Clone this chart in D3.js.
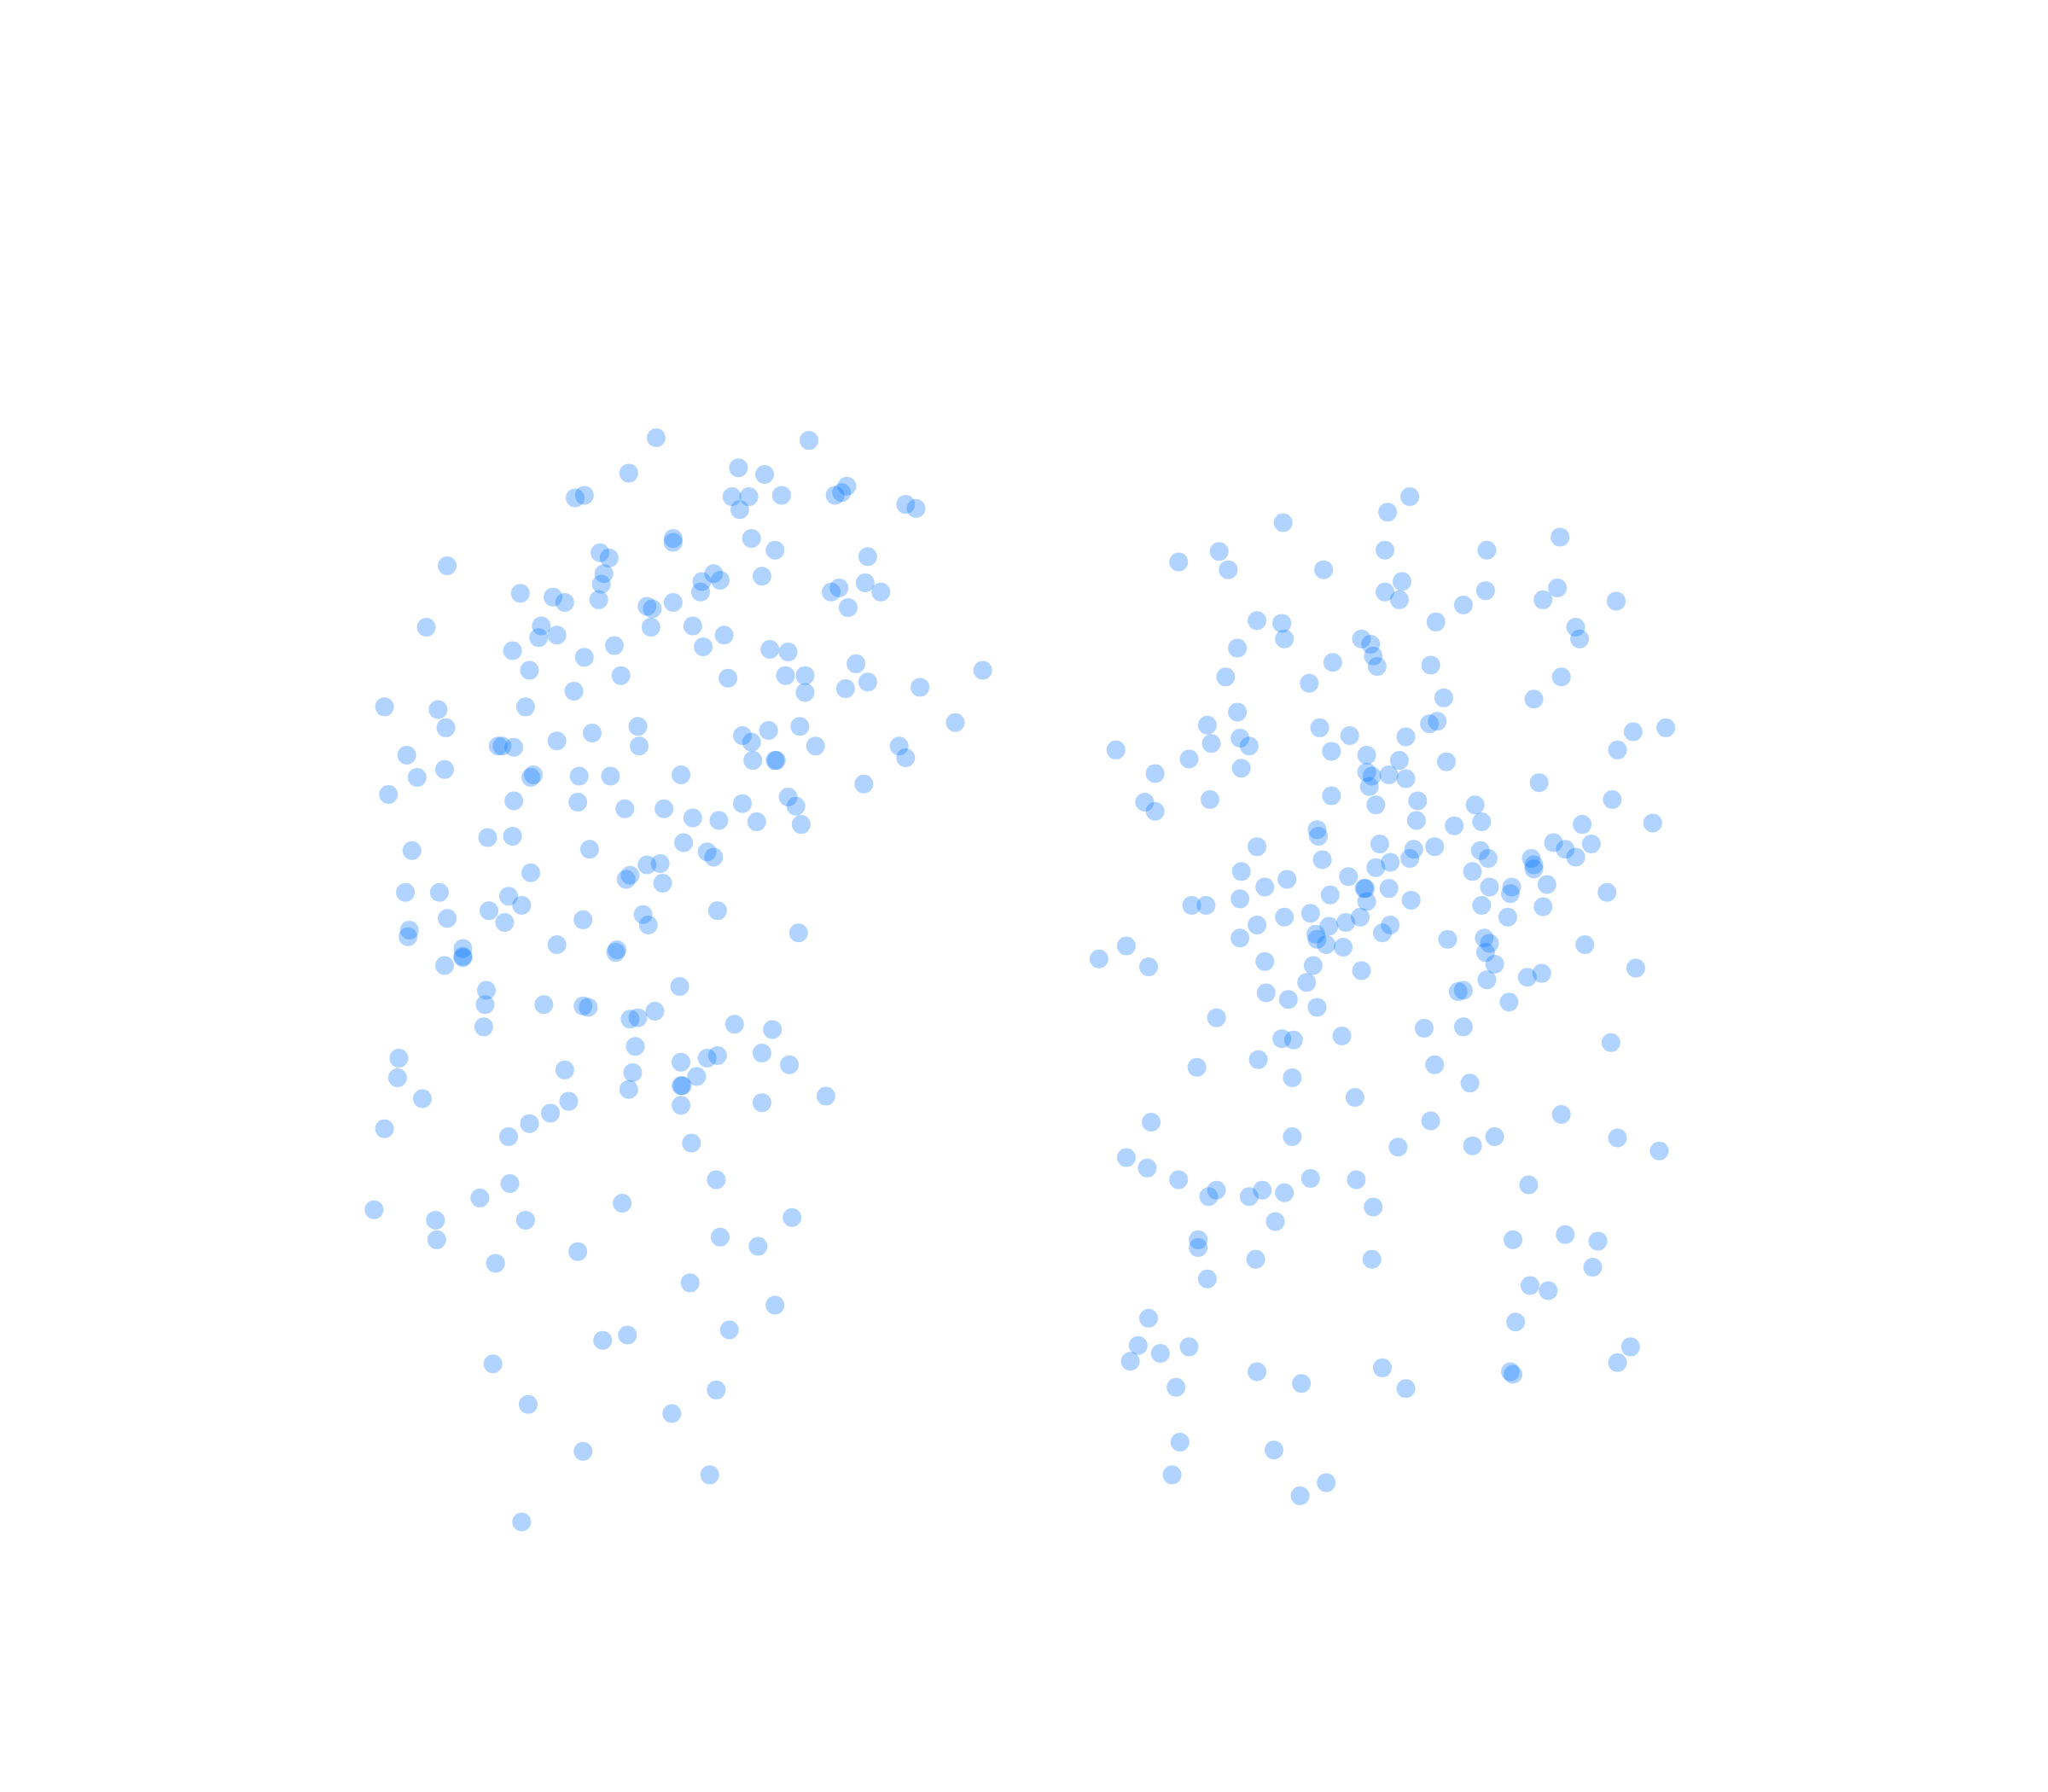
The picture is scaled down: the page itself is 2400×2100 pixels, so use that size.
<!DOCTYPE html>
<html>
<head>
<meta charset="utf-8">
<script src="https://cdn.jsdelivr.net/npm/d3@7"></script>
<style>html,body{margin:0;padding:0;background:#fff}svg{display:block}</style>
</head>
<body>
<div id="chart"></div>
<script>
const leftSeries = [[502,335],[619,337],[481,362],[565,358],[585,363],[440,381],[447,379],[560,380],[573,380],[598,379],[566,390],[639,379],[644,377],[648,372],[693,386],[701,389],
[515,412],[515,415],[575,412],[593,421],[459,423],[466,427],[664,426],[342,433],[462,439],[460,447],[458,459],[537,445],[546,439],[551,444],[536,453],[583,441],[636,453],[642,450],[662,446],[674,453],[649,465],
[398,454],[423,457],[432,461],[495,464],[499,466],[515,461],[326,480],[414,479],[412,488],[426,486],[392,498],[498,480],[530,479],[554,486],[538,495],[470,494],[447,503],[589,497],[603,499],[655,508],[405,513],[475,517],[557,519],[601,517],[616,517],[647,527],[664,522],[616,530],[704,526],[752,513],[439,529],
[294,541],[335,543],[341,557],[402,541],[488,556],[453,561],[426,567],[381,571],[384,571],[393,572],[489,571],[568,563],[575,568],[588,559],[612,556],[624,571],[731,553],[688,571],[693,580],[576,582],[593,582],[594,582],[311,578],[340,589],[319,595],[297,608],[408,593],[406,595],[443,594],[467,594],[521,593],[661,600],[393,613],[442,614],[478,619],[508,619],[568,615],[603,610],[609,617],[530,626],[550,628],[579,629],[613,631],[373,641],[392,640],[523,645],[451,650],[541,652],[546,656],[315,651],
[406,668],[495,662],[505,661],[479,673],[482,670],[507,676],[310,683],[336,683],[389,686],[399,693],[374,697],[386,706],[342,703],[446,704],[492,700],[496,708],[549,697],[313,712],[312,717],[611,714],[354,726],[354,732],[354,733],[340,739],[426,723],[471,729],[472,727],
[372,758],[371,769],[370,786],[520,755],[416,769],[446,770],[450,771],[482,780],[488,779],[501,774],[562,784],[591,788],[305,810],[304,825],[486,801],[541,810],[549,808],[583,806],[521,813],[604,815],[432,819],[484,821],[533,824],[521,831],[522,831],[481,834],[323,841],[435,843],[421,852],[405,860],[521,846],[583,844],[632,839],[294,864],[389,870],[529,875],[390,906],[548,903],[367,917],[286,926],[476,921],[333,934],[402,934],[606,932],[334,949],[551,947],[580,954],[442,958],[379,967],[528,982],[593,999],[558,1018],[461,1026],[480,1022],[377,1044],[548,1064],[404,1075],[514,1082],[446,1111],[543,1129],[399,1165]];

const rightSeries = [[1079,380],[1062,392],[982,400],[1194,411],[1060,421],[933,422],[902,430],[940,436],[1138,421],[1013,436],[1073,445],[1060,453],[1071,459],[1137,452],[1192,450],[1181,459],[1237,460],[1120,463],[1099,476],[962,475],[981,477],[983,489],[1206,480],[1209,489],[1042,489],[1049,493],[947,496],[1051,502],[1054,510],[1095,509],[1020,507],[938,518],[1002,523],[1195,518],[1105,534],[1174,535],[947,545],[924,555],[1010,557],[1033,563],[1076,564],[1094,554],[1100,552],[949,565],[927,569],[956,571],[1250,560],[1275,557],[1238,574],[854,574],[910,581],[950,588],[1019,575],[1046,578],[1071,582],[1107,583],[884,592],[1046,591],[1050,594],[1063,593],[1076,596],[1048,602],[1178,599],[876,614],[884,621],[926,612],[1019,609],[1053,616],[1085,613],[1129,616],[1234,612],[1084,628],[1113,632],[1134,629],[1211,631],[1265,630],[1008,635],[1009,640],[962,648],[1056,646],[1082,650],[1098,648],[1133,651],[1189,645],[1198,650],[1218,646],[1206,656],[1139,657],[1172,657],[1174,662],[1174,665],[1012,658],[1064,660],[1079,657],[1053,664],[1127,667],[950,667],[985,673],[1032,671],[968,679],[1044,680],[1045,680],[1063,680],[1140,679],[1157,679],[1156,684],[1184,677],[1230,683],[949,688],[1018,685],[1046,690],[1080,689],[912,693],[923,693],[1134,693],[1181,694],[1003,699],[983,702],[1041,702],[1154,702],[962,708],[1017,709],[1030,706],[1064,708],[1058,714],[949,718],[1007,715],[1008,719],[1015,723],[1028,725],[1108,719],[1136,718],[1140,722],[1213,723],[862,724],[841,734],[879,740],[968,736],[1005,739],[1042,743],[1137,729],[1144,738],[1252,741],[1000,752],[1138,750],[1169,748],[1180,745],[969,760],[986,765],[1008,771],[1116,759],[1120,758],[1155,767],[931,779],[1090,787],[1120,786],[981,795],[990,796],[1027,793],[1233,798],[963,811],[916,817],[989,825],[1098,815],[1125,829],[1037,840],[881,859],[1095,858],[1195,853],[989,870],[1144,870],[1238,871],[1070,878],[1127,877],[1270,881],[862,886],[878,894],[902,903],[1003,902],[1038,903],[1170,907],[931,911],[925,916],[956,916],[966,911],[983,913],[1051,924],[976,935],[917,949],[917,955],[1158,949],[1198,945],[1223,950],[961,964],[1050,964],[1219,970],[924,979],[1171,984],[1185,988],[879,1009],[1160,1012],[871,1030],[910,1031],[888,1036],[865,1042],[1248,1031],[1238,1043],[962,1050],[1058,1047],[1156,1050],[1158,1052],[900,1062],[996,1059],[1076,1063],[903,1104],[975,1110],[897,1129],[1015,1135],[995,1145]];

const width = 2400, height = 2100;
const x = d3.scaleLinear().domain([0, 1568]).range([0.6, width + 0.6]);
const y = d3.scaleLinear().domain([0, 1372]).range([0.3, height + 0.3]);

const svg = d3.select("#chart").append("svg").attr("width", width).attr("height", height);
svg.append("rect").attr("width", width).attr("height", height).attr("fill", "#fff");

svg.selectAll("circle.pt")
  .data(leftSeries.concat(rightSeries))
  .join("circle")
  .attr("class", "pt")
  .attr("cx", d => x(d[0]))
  .attr("cy", d => y(d[1]))
  .attr("r", 11)
  .attr("fill", "#0075ff")
  .attr("fill-opacity", 0.31);
</script>
</body>
</html>
